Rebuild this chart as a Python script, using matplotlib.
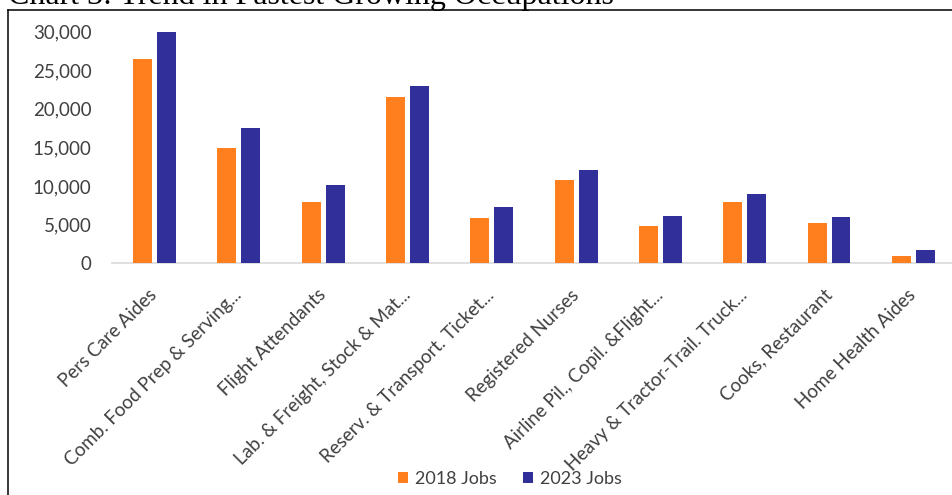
import matplotlib
matplotlib.use("Agg")
import matplotlib.pyplot as plt
import matplotlib.ticker as mtick
import matplotlib.transforms as mtrans
from matplotlib.lines import Line2D
import numpy as np

TITLE = "Chart 3: Trend in Fastest Growing Occupations"

OCCUPATIONS = [
    "Pers Care Aides",
    "Comb. Food Prep & Serving...",
    "Flight Attendants",
    "Lab. & Freight, Stock & Mat...",
    "Reserv. & Transport. Ticket...",
    "Registered Nurses",
    "Airline Pil., Copil. &Flight...",
    "Heavy & Tractor-Trail. Truck...",
    "Cooks, Restaurant",
    "Home Health Aides",
]
JOBS_2018 = [26500, 14900, 7900, 21500, 5800, 10800, 4850, 7900, 5200, 900]
JOBS_2023 = [30000, 17500, 10100, 23000, 7300, 12000, 6100, 8900, 6000, 1700]
SERIES_LABELS = ["2018 Jobs", "2023 Jobs"]
Y_TICKS = [0, 5000, 10000, 15000, 20000, 25000, 30000]

ORANGE = "#ff7f1f"
NAVY = "#31309a"
TEXT = "#404040"
AXIS = "#d9d9d9"

W, H = 952, 495

plt.rcParams["font.family"] = ["Lato", "DejaVu Sans"]

fig = plt.figure(figsize=(W / 100, H / 100), dpi=100)
fig.patch.set_facecolor("white")

# chart area sits a little past the right edge of the page
left, right, bottom, top = 112.3, 955.5, 263, 31.7
ax = fig.add_axes([left / W, 1 - bottom / H, (right - left) / W, (bottom - top) / H])

x = np.arange(len(OCCUPATIONS))
width = 0.225
offset = 0.142
ax.bar(x - offset, JOBS_2018, width, color=ORANGE, label=SERIES_LABELS[0], zorder=3)
ax.bar(x + offset, JOBS_2023, width, color=NAVY, label=SERIES_LABELS[1], zorder=3)

ax.set_xlim(-0.5, len(OCCUPATIONS) - 0.5)
ax.set_ylim(0, 30000)
ax.set_yticks(Y_TICKS)
ax.yaxis.set_major_formatter(mtick.StrMethodFormatter("{x:,.0f}"))
ax.tick_params(axis="y", length=0, pad=15, labelsize=13.5, labelcolor=TEXT)

ax.set_xticks(x)
ax.set_xticklabels(OCCUPATIONS, rotation=45, ha="right", va="center",
                   rotation_mode="anchor")
ax.tick_params(axis="x", length=0, pad=21, labelsize=13.5, labelcolor=TEXT)

for side in ["top", "right", "left"]:
    ax.spines[side].set_visible(False)
ax.spines["bottom"].set_color(AXIS)
ax.spines["bottom"].set_linewidth(1.2)
ax.spines["bottom"].set_zorder(2)
ax.set_facecolor("none")

fig.legend(
    loc="center",
    bbox_to_anchor=(510 / W, 1 - 479 / H),
    ncol=2,
    frameon=False,
    fontsize=13,
    labelcolor=TEXT,
    handlelength=0.55,
    handleheight=0.55,
    handletextpad=0.35,
    columnspacing=1.5,
)

# page border and the caption above it
fig.add_artist(Line2D([7.5 / W, 7.5 / W], [0, 1 - 10 / H], transform=fig.transFigure,
                      color="black", linewidth=1.1))
fig.add_artist(Line2D([7.5 / W, 1], [1 - 10 / H, 1 - 10 / H], transform=fig.transFigure,
                      color="black", linewidth=1.1))
fig.text(8 / W, 1 - 4 / H, TITLE, family="Liberation Serif", fontsize=23,
         color="black", ha="left", va="baseline")

fig.savefig("out.png", dpi=100, facecolor="white")
